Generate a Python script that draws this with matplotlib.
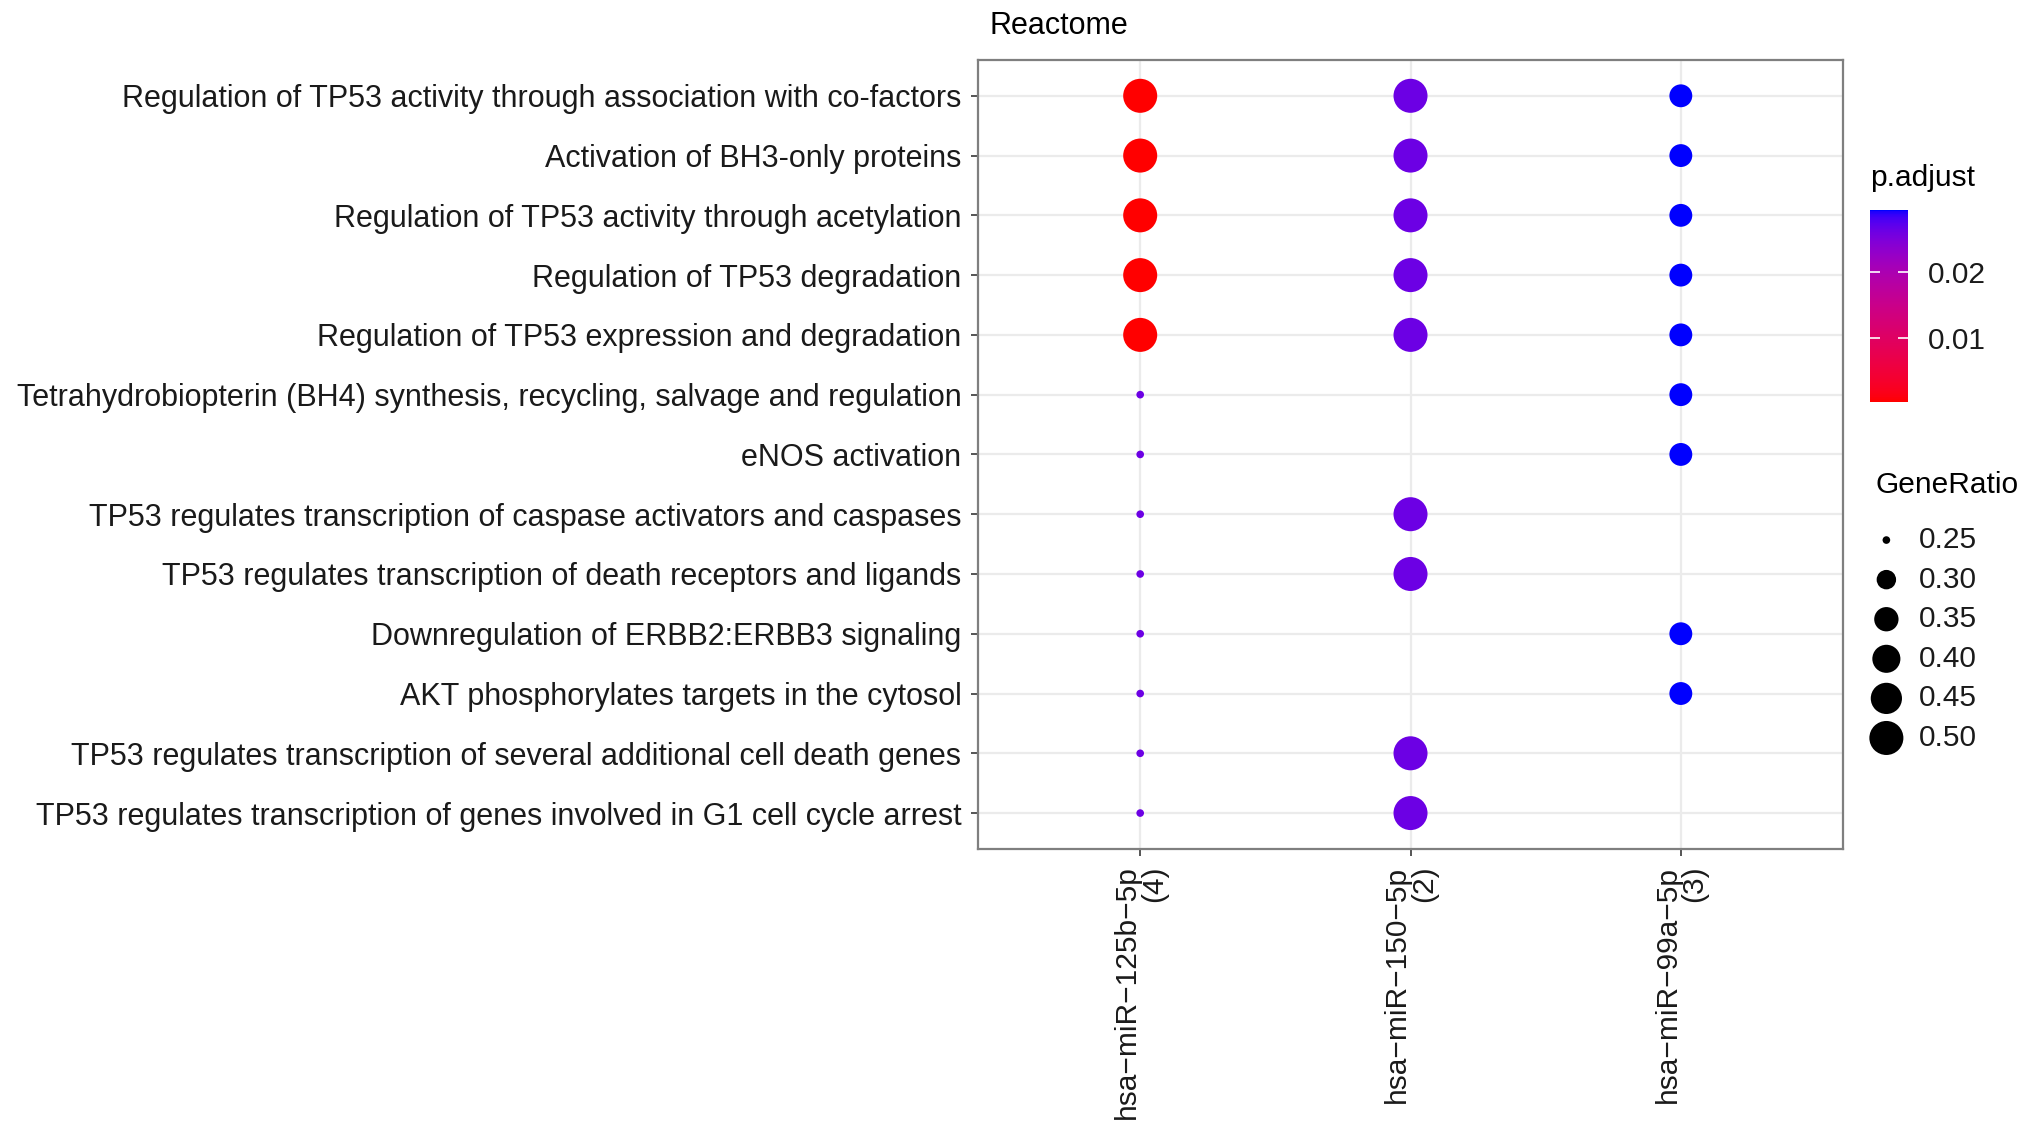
import numpy as np
import matplotlib
matplotlib.use("Agg")
import matplotlib.pyplot as plt
from matplotlib.colors import ListedColormap, Normalize
from matplotlib.cm import ScalarMappable

plt.rcParams['font.family'] = ['Liberation Sans', 'DejaVu Sans']

# datos
pathways = [
    "Regulation of TP53 activity through association with co-factors",
    "Activation of BH3-only proteins",
    "Regulation of TP53 activity through acetylation",
    "Regulation of TP53 degradation",
    "Regulation of TP53 expression and degradation",
    "Tetrahydrobiopterin (BH4) synthesis, recycling, salvage and regulation",
    "eNOS activation",
    "TP53 regulates transcription of caspase activators and caspases",
    "TP53 regulates transcription of death receptors and ligands",
    "Downregulation of ERBB2:ERBB3 signaling",
    "AKT phosphorylates targets in the cytosol",
    "TP53 regulates transcription of several additional cell death genes",
    "TP53 regulates transcription of genes involved in G1 cell cycle arrest",
]
mirnas = ["hsa\u2212miR\u2212125b\u22125p\n(4)", "hsa\u2212miR\u2212150\u22125p\n(2)", "hsa\u2212miR\u221299a\u22125p\n(3)"]

# (columna, fila) de cada punto
row_idx = list(range(13)) + [0, 1, 2, 3, 4, 7, 8, 11, 12] + [0, 1, 2, 3, 4, 5, 6, 9, 10]
col_idx = [0]*13 + [1]*9 + [2]*9
gene_ratio = [0.5]*5 + [0.25]*8 + [0.5]*9 + [1/3]*9
p_adjust = [0.0004]*5 + [0.0262]*8 + [0.0262]*9 + [0.0294]*9

size_breaks = [0.25, 0.30, 0.35, 0.40, 0.45, 0.50]
color_ticks = [0.01, 0.02]


# gradiente rojo -> azul en espacio Lab (como ggplot)
def srgb_a_lab(c):
    c = np.asarray(c, float)
    lin = np.where(c <= 0.04045, c/12.92, ((c+0.055)/1.055)**2.4)
    M = np.array([[0.4124, 0.3576, 0.1805], [0.2126, 0.7152, 0.0722], [0.0193, 0.1192, 0.9505]])
    xyz = M @ lin / np.array([0.95047, 1.0, 1.08883])
    f = np.where(xyz > 0.008856, np.cbrt(xyz), 7.787*xyz + 16/116)
    return np.array([116*f[1]-16, 500*(f[0]-f[1]), 200*(f[1]-f[2])])


def lab_a_srgb(lab):
    L, a, b = lab
    fy = (L+16)/116
    f = np.array([fy + a/500, fy, fy - b/200])
    xyz = np.where(f**3 > 0.008856, f**3, (f-16/116)/7.787) * np.array([0.95047, 1.0, 1.08883])
    Mi = np.array([[3.2406, -1.5372, -0.4986], [-0.9689, 1.8758, 0.0415], [0.0557, -0.2040, 1.0570]])
    lin = Mi @ xyz
    c = np.where(lin <= 0.0031308, 12.92*lin, 1.055*np.clip(lin, 0, None)**(1/2.4) - 0.055)
    return np.clip(c, 0, 1)


rojo = srgb_a_lab([1, 0, 0])
azul = srgb_a_lab([0, 0, 1])
colores = [lab_a_srgb(rojo + (azul-rojo)*t) for t in np.linspace(0, 1, 256)]
cmap = ListedColormap(colores)
norm = Normalize(min(p_adjust), max(p_adjust))

# tamaño (diámetro en pt) escalado por área
dmin, dmax = 5.5, 24.5
gmin, gmax = min(gene_ratio), max(gene_ratio)


def diametro(g):
    return dmin + (dmax-dmin)*np.sqrt((np.asarray(g)-gmin)/(gmax-gmin))


fs = 22
fig = plt.figure(figsize=(20.32, 11.31), dpi=100)
ax = fig.add_axes([0.4813, 0.2494, 0.4257, 0.6976])

ax.scatter(col_idx, row_idx, s=diametro(gene_ratio)**2, c=p_adjust, cmap=cmap, norm=norm,
           linewidths=0, zorder=3)
ax.set_xlim(-0.6, 2.6)
ax.set_ylim(12.6, -0.6)
ax.set_xticks(range(len(mirnas)))
ax.set_xticklabels(mirnas, rotation=90, va='top', ha='center', linespacing=0.95,
                   multialignment='right')
ax.set_yticks(range(len(pathways)))
ax.set_yticklabels(pathways)
ax.grid(True, color='#ebebeb', lw=1.6, zorder=0)
ax.set_axisbelow(True)
for s in ax.spines.values():
    s.set_color('#7f7f7f')
    s.set_linewidth(1.6)
ax.tick_params(axis='both', length=5, width=1.4, color='#555555', labelsize=fs,
               labelcolor='#1a1a1a', pad=7)
ax.tick_params(axis='x', labelsize=21.5)
ax.set_title("Reactome", loc='left', fontsize=fs, pad=19, x=0.013)

# barra de color
cax = fig.add_axes([0.9203, 0.6446, 0.0187, 0.1698])
cb = fig.colorbar(ScalarMappable(norm=norm, cmap=cmap), cax=cax, ticks=color_ticks)
cb.outline.set_visible(False)
cax.yaxis.set_ticks_position('both')
cax.tick_params(length=7, width=1.2, color='white', direction='in', labelsize=21.5,
                labelcolor='#1a1a1a', pad=14, labelright=True)
cb.set_ticklabels(["%.2f" % t for t in color_ticks])
fig.text(0.9203, 0.8425, "p.adjust", fontsize=21.5, va='center', ha='left')

# leyenda de tamaño
lax = fig.add_axes([0.915, 0.33, 0.08, 0.21])
lax.scatter(np.zeros(len(size_breaks)), range(len(size_breaks)), s=diametro(size_breaks)**2,
            color='black', linewidths=0)
for i, b in enumerate(size_breaks):
    lax.text(0.72, i, "%.2f" % b, fontsize=21.5, va='center', ha='left', color='#1a1a1a')
lax.set_xlim(-0.6, 3)
lax.set_ylim(len(size_breaks) - 0.5, -0.5)
lax.axis('off')
fig.text(0.9228, 0.571, "GeneRatio", fontsize=21.5, va='center', ha='left')

fig.savefig("out.png", dpi=100, facecolor='white')
